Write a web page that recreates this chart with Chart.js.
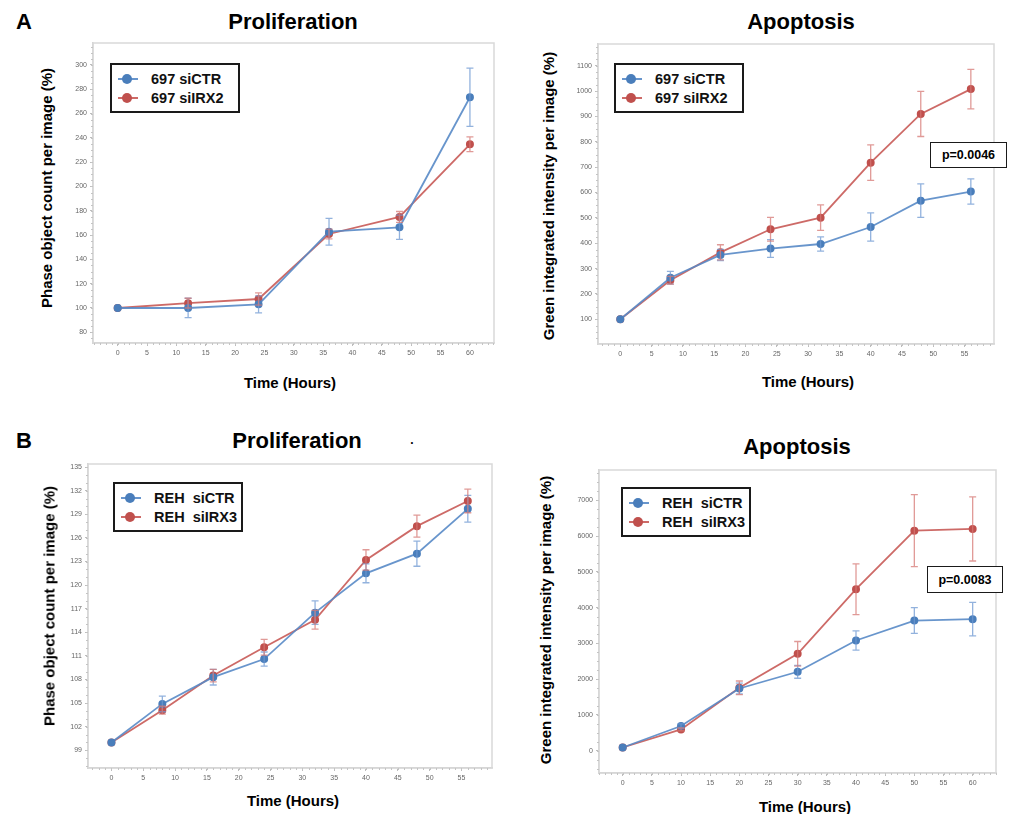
<!DOCTYPE html>
<html>
<head>
<meta charset="utf-8">
<script src="https://cdn.jsdelivr.net/npm/chart.js@4.4.1/dist/chart.umd.min.js"></script>
<style>
body { margin: 0; background: #fff; }
#fig { position: relative; width: 1011px; height: 814px; overflow: hidden; font-family: Arial, "Liberation Sans", sans-serif; }
#fig canvas { position: absolute; }
.txt { position: absolute; font-weight: bold; color: #000; white-space: pre; line-height: 1; transform: translate(-50%, -50%); z-index: 2; }
.big { font-size: 22px; }
.ax { font-size: 15px; }
.rot { transform: translate(-50%, -50%) rotate(-90deg); }
.lg { position: absolute; box-sizing: border-box; width: 130px; height: 50px; border: 2px solid #1a1a1a; background: #fff; z-index: 2; }
.lg .row { position: absolute; left: 0; height: 0; }
.lg .ln { position: absolute; left: 6px; width: 20px; height: 2px; top: -1px; }
.lg .dot { position: absolute; left: 10px; width: 10px; height: 10px; top: -5px; border-radius: 50%; }
.lg .lab { position: absolute; left: 39px; top: -7px; font-size: 14.5px; font-weight: bold; white-space: pre; line-height: 14px; color: #111; }
.pv { position: absolute; box-sizing: border-box; border: 1.5px solid #1a1a1a; background: #fff; font-size: 12.5px; font-weight: bold; display: flex; align-items: center; justify-content: center; z-index: 2; }
</style>
</head>
<body>
<div id="fig"></div>
<script>
// A - 697 cells, proliferation
const timeA1 = [0, 12, 24, 36, 48, 60];
const ctrA1 = [100, 100, 103, 162.8, 166.4, 273.4];
const ctrA1Err = [0, 8, 7, 11, 10, 24];
const irxA1 = [100, 104, 107.4, 160.9, 174.9, 234.7];
const irxA1Err = [0, 4, 5, 4, 4.5, 6];
const xTicksA1 = [0, 5, 10, 15, 20, 25, 30, 35, 40, 45, 50, 55, 60];
const yTicksA1 = [80, 100, 120, 140, 160, 180, 200, 220, 240, 260, 280, 300];

// A - 697 cells, apoptosis
const timeA2 = [0, 8, 16, 24, 32, 40, 48, 56];
const ctrA2 = [100, 264, 354, 379, 397, 464, 568, 604];
const ctrA2Err = [0, 25, 22, 35, 28, 56, 66, 50];
const irxA2 = [100, 254, 364, 455, 501, 718, 910, 1008];
const irxA2Err = [0, 15, 30, 47, 50, 70, 89, 78];
const xTicksA2 = [0, 5, 10, 15, 20, 25, 30, 35, 40, 45, 50, 55];
const yTicksA2 = [100, 200, 300, 400, 500, 600, 700, 800, 900, 1000, 1100];

// B - REH cells, proliferation
const timeB1 = [0, 8, 16, 24, 32, 40, 48, 56];
const ctrB1 = [100, 104.9, 108.3, 110.6, 116.5, 121.5, 124.0, 129.7];
const ctrB1Err = [0, 1.0, 1.0, 0.9, 1.5, 1.2, 1.6, 1.7];
const irxB1 = [100, 104.1, 108.5, 112.1, 115.6, 123.2, 127.5, 130.7];
const irxB1Err = [0, 0.5, 0.8, 1.0, 1.2, 1.3, 1.4, 1.5];
const xTicksB1 = [0, 5, 10, 15, 20, 25, 30, 35, 40, 45, 50, 55];
const yTicksB1 = [99, 102, 105, 108, 111, 114, 117, 120, 123, 126, 129, 132, 135];

// B - REH cells, apoptosis
const timeB2 = [0, 10, 20, 30, 40, 50, 60];
const ctrB2 = [90, 690, 1740, 2206, 3080, 3638, 3677];
const ctrB2Err = [0, 60, 150, 180, 270, 360, 470];
const irxB2 = [90, 595, 1759, 2708, 4514, 6151, 6198];
const irxB2Err = [0, 40, 190, 345, 710, 1006, 895];
const xTicksB2 = [0, 5, 10, 15, 20, 25, 30, 35, 40, 45, 50, 55, 60];
const yTicksB2 = [0, 1000, 2000, 3000, 4000, 5000, 6000, 7000];

const seriesA = ["697 siCTR", "697 siIRX2"];
const seriesB = ["REH  siCTR", "REH  siIRX3"];

const BLUE = { line: "rgba(88,137,199,0.9)", point: "#4a7ebb", err: "rgba(110,152,210,0.75)" };
const RED = { line: "rgba(200,90,86,0.9)", point: "#c0504d", err: "rgba(214,120,116,0.75)" };

const fig = document.getElementById("fig");

function addText(str, cls, x, y, size) {
  const d = document.createElement("div");
  d.className = "txt " + cls;
  d.textContent = str;
  d.style.left = x + "px";
  d.style.top = y + "px";
  if (size) d.style.fontSize = size + "px";
  fig.appendChild(d);
}

function addLegend(names, x, y) {
  const box = document.createElement("div");
  box.className = "lg";
  box.style.left = x + "px";
  box.style.top = y + "px";
  [BLUE, RED].forEach((c, i) => {
    const row = document.createElement("div");
    row.className = "row";
    row.style.top = (14 + i * 19) + "px";
    row.innerHTML = `<span class="ln" style="background:${c.line}"></span><span class="dot" style="background:${c.point}"></span><span class="lab">${names[i]}</span>`;
    box.appendChild(row);
  });
  fig.appendChild(box);
}

function addPval(str, x, y, w, h) {
  const d = document.createElement("div");
  d.className = "pv";
  d.textContent = str;
  d.style.left = x + "px"; d.style.top = y + "px";
  d.style.width = w + "px"; d.style.height = h + "px";
  fig.appendChild(d);
}

// frame around plot area + minor ticks
const framePlugin = {
  id: "frame",
  afterDraw(chart, args, opts) {
    const { ctx, chartArea: a, scales: { x, y } } = chart;
    ctx.save();
    ctx.strokeStyle = "#d9d9d9";
    ctx.lineWidth = 1.5;
    ctx.strokeRect(a.left, a.top, a.right - a.left, a.bottom - a.top);
    ctx.strokeStyle = "#c4c4c4";
    ctx.lineWidth = 1;
    ctx.beginPath();
    for (let v = Math.ceil(x.min); v <= x.max; v += 1) {
      const px = Math.round(x.getPixelForValue(v)) + 0.5;
      ctx.moveTo(px, a.bottom);
      ctx.lineTo(px, a.bottom + 2);
    }
    const st = opts.minorY;
    for (let v = Math.ceil(y.min / st) * st; v <= y.max; v += st) {
      const py = Math.round(y.getPixelForValue(v)) + 0.5;
      ctx.moveTo(a.left, py);
      ctx.lineTo(a.left - 2, py);
    }
    ctx.stroke();
    ctx.restore();
  }
};

const errorBars = {
  id: "errorBars",
  afterDatasetsDraw(chart) {
    const { ctx, scales: { y } } = chart;
    chart.data.datasets.forEach((ds, i) => {
      const meta = chart.getDatasetMeta(i);
      ctx.save();
      ctx.strokeStyle = ds.errorColor;
      ctx.lineWidth = 1.3;
      ctx.beginPath();
      meta.data.forEach((pt, j) => {
        const e = ds.errors[j];
        if (!e) return;
        const v = ds.data[j].y;
        const top = y.getPixelForValue(v + e);
        const bot = y.getPixelForValue(v - e);
        ctx.moveTo(pt.x, top); ctx.lineTo(pt.x, bot);
        ctx.moveTo(pt.x - 3.5, top); ctx.lineTo(pt.x + 3.5, top);
        ctx.moveTo(pt.x - 3.5, bot); ctx.lineTo(pt.x + 3.5, bot);
      });
      ctx.stroke();
      ctx.restore();
    });
  }
};

function makeDataset(label, time, vals, errs, c) {
  return {
    label: label,
    data: time.map((t, i) => ({ x: t, y: vals[i] })),
    errors: errs,
    errorColor: c.err,
    borderColor: c.line,
    backgroundColor: c.point,
    pointBackgroundColor: c.point,
    pointBorderColor: c.point,
    pointRadius: 3.1,
    borderWidth: 1.8,
    tension: 0
  };
}

const WY = 34, HX = 22, PAD = 8;

function makeChart(p) {
  const l = p.frame[0], t = p.frame[1], r = p.frame[2], b = p.frame[3];
  const cv = document.createElement("canvas");
  const w = Math.round(r - l) + WY + PAD;
  const h = Math.round(b - t) + PAD + HX;
  cv.width = w; cv.height = h;
  cv.style.width = w + "px"; cv.style.height = h + "px";
  cv.style.left = (l - WY) + "px";
  cv.style.top = (t - PAD) + "px";
  fig.appendChild(cv);

  const tickFont = { family: "Arial, 'Liberation Sans', sans-serif", size: 7 };
  const chart = new Chart(cv.getContext("2d"), {
    type: "line",
    data: {
      datasets: [
        makeDataset(p.names[0], p.time, p.ctr, p.ctrErr, BLUE),
        makeDataset(p.names[1], p.time, p.irx, p.irxErr, RED)
      ]
    },
    options: {
      responsive: false,
      animation: false,
      devicePixelRatio: 1,
      layout: { padding: { top: PAD, right: PAD, left: 0, bottom: 0 } },
      plugins: { legend: { display: false }, tooltip: { enabled: false }, frame: { minorY: p.minorY } },
      scales: {
        x: {
          type: "linear", min: p.xMin, max: p.xMax,
          afterBuildTicks: s => { s.ticks = p.xTicks.map(v => ({ value: v })); },
          afterFit: s => { s.height = HX; },
          ticks: { autoSkip: false, maxRotation: 0, padding: 3, color: "#666", font: tickFont, callback: v => String(v) },
          grid: { drawOnChartArea: false, tickLength: 3, tickColor: "#bdbdbd" },
          border: { color: "#d0d0d0", width: 1.5 }
        },
        y: {
          type: "linear", min: p.yMin, max: p.yMax,
          afterBuildTicks: s => { s.ticks = p.yTicks.map(v => ({ value: v })); },
          afterFit: s => { s.width = WY; },
          ticks: { autoSkip: false, padding: 3, color: "#666", font: tickFont, callback: v => String(v) },
          grid: { drawOnChartArea: false, tickLength: 3, tickColor: "#bdbdbd" },
          border: { color: "#d0d0d0", width: 1.5 }
        }
      }
    },
    plugins: [framePlugin, errorBars]
  });

  // nudge canvas so the plot area lands on the frame
  const a = chart.chartArea;
  cv.style.left = (l - a.left) + "px";
  cv.style.top = (t - a.top) + "px";
  return chart;
}

makeChart({ frame: [93, 43, 494, 343], xMin: -4.2, xMax: 64.1, yMin: 71.2, yMax: 318, minorY: 5,
  xTicks: xTicksA1, yTicks: yTicksA1, time: timeA1, ctr: ctrA1, ctrErr: ctrA1Err, irx: irxA1, irxErr: irxA1Err, names: seriesA });
makeChart({ frame: [598, 44, 994, 344], xMin: -3.56, xMax: 59.7, yMin: 2.5, yMax: 1186, minorY: 25,
  xTicks: xTicksA2, yTicks: yTicksA2, time: timeA2, ctr: ctrA2, ctrErr: ctrA2Err, irx: irxA2, irxErr: irxA2Err, names: seriesA });
makeChart({ frame: [88, 464, 492, 768], xMin: -3.68, xMax: 59.8, yMin: 96.75, yMax: 135.4, minorY: 1,
  xTicks: xTicksB1, yTicks: yTicksB1, time: timeB1, ctr: ctrB1, ctrErr: ctrB1Err, irx: irxB1, irxErr: irxB1Err, names: seriesB });
makeChart({ frame: [599, 470, 996, 773], xMin: -4.06, xMax: 64.0, yMin: -623, yMax: 7846, minorY: 250,
  xTicks: xTicksB2, yTicks: yTicksB2, time: timeB2, ctr: ctrB2, ctrErr: ctrB2Err, irx: irxB2, irxErr: irxB2Err, names: seriesB });

// panel letters and titles
addText("A", "big", 24, 22);
addText("B", "big", 24, 441);
addText("Proliferation", "big", 293, 22);
addText("Apoptosis", "big", 801, 22);
addText("Proliferation", "big", 297, 441);
addText(".", "", 412, 440, 12);
addText("Apoptosis", "big", 797, 447);

// axis titles
addText("Phase object count per image (%)", "ax rot", 46, 188);
addText("Green integrated intensity per image (%)", "ax rot", 548, 196);
addText("Phase object count per image (%)", "ax rot", 49, 606);
addText("Green integrated intensity per image (%)", "ax rot", 545, 620);
addText("Time (Hours)", "ax", 290, 382);
addText("Time (Hours)", "ax", 808, 381);
addText("Time (Hours)", "ax", 293, 800);
addText("Time (Hours)", "ax", 805, 806);

addLegend(seriesA, 110, 63);
addLegend(seriesA, 614, 63);
addLegend(seriesB, 113, 482);
addLegend(seriesB, 621, 487);

addPval("p=0.0046", 930, 142, 77, 26);
addPval("p=0.0083", 927, 566, 76, 27);
</script>
</body>
</html>
